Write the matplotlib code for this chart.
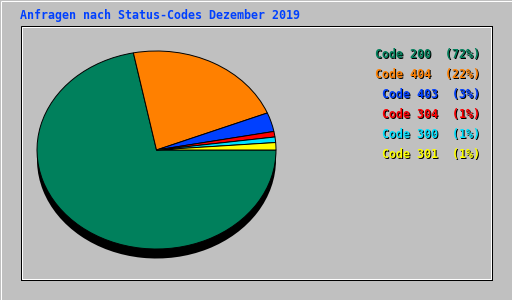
import matplotlib
matplotlib.use("Agg")
import matplotlib.pyplot as plt
from matplotlib.patches import Rectangle

title = "Anfragen nach Status-Codes Dezember 2019"
codes = ["Code 200", "Code 404", "Code 403", "Code 304", "Code 300", "Code 301"]
shares = [71.9, 22.0, 3.1, 0.9, 0.9, 1.2]
colors = ["#00805C", "#FF8000", "#0040FF", "#FF0000", "#00E0FF", "#FFFF00"]

W, H = 512, 300
fig = plt.figure(figsize=(W / 100, H / 100), dpi=100)
fig.patch.set_facecolor("#C0C0C0")

# background axes in pixel coordinates
bg = fig.add_axes([0, 0, 1, 1])
bg.set_xlim(0, W)
bg.set_ylim(H, 0)
bg.axis("off")
bg.set_zorder(0)

px = 0.72  # one pixel in points
# outer frame
bg.plot([0.5, W - 0.5], [0.5, 0.5], color="white", lw=px, solid_capstyle="butt")
bg.plot([0.5, 0.5], [0.5, H - 0.5], color="white", lw=px, solid_capstyle="butt")
bg.plot([0.5, W - 0.5], [H - 0.5, H - 0.5], color="#808080", lw=px, solid_capstyle="butt")
bg.plot([W - 0.5, W - 0.5], [0.5, H - 0.5], color="#808080", lw=px, solid_capstyle="butt")
# inner panel: black top/left outside, white inside
bg.add_patch(Rectangle((20.5, 25.5), 471, 254, fill=False, ec="black", lw=px))
bg.add_patch(Rectangle((21.5, 26.5), 469, 252, fill=False, ec="white", lw=px))
bg.plot([20.5, 491.5], [279.5, 279.5], color="black", lw=px)
bg.plot([491.5, 491.5], [25.5, 279.5], color="black", lw=px)

mono = "DejaVu Sans Mono"
fs = 8.4
bg.text(20, 19.5, title, color="#0040FF", fontsize=fs, family=mono,
        fontweight="bold", ha="left", va="baseline")

total = sum(shares)
for i, (c, s, col) in enumerate(zip(codes, shares, colors)):
    label = f"{c}  ({round(s / total * 100)}%)"
    y = 58 + 20 * i
    bg.text(481, y + 1, label, color="black", fontsize=fs, family=mono,
            fontweight="bold", ha="right", va="baseline")
    bg.text(480, y, label, color=col, fontsize=fs, family=mono,
            fontweight="bold", ha="right", va="baseline")

# pie axes: ellipse spans x 37..276, y 51..249, shadow down to ~259
x0, x1, y0, y1 = 37, 276, 51, 249
depth = 9.5
ry = (y1 - y0) / 2
ax = fig.add_axes([x0 / W, (H - y1 - depth) / H, (x1 - x0) / W, (y1 - y0 + depth) / H])
ax.set_zorder(1)
ax.pie(shares, colors=["black"] * len(shares), startangle=0, counterclock=False,
       radius=1, center=(0, -depth / ry), wedgeprops=dict(linewidth=0))
ax.pie(shares, colors=colors, startangle=0, counterclock=False, radius=1,
       wedgeprops=dict(edgecolor="black", linewidth=0.7))
ax.set_aspect("auto")
ax.set_xlim(-1, 1)
ax.set_ylim(-1 - depth / ry, 1)
ax.axis("off")

fig.savefig("out.png", dpi=100, facecolor=fig.get_facecolor())
